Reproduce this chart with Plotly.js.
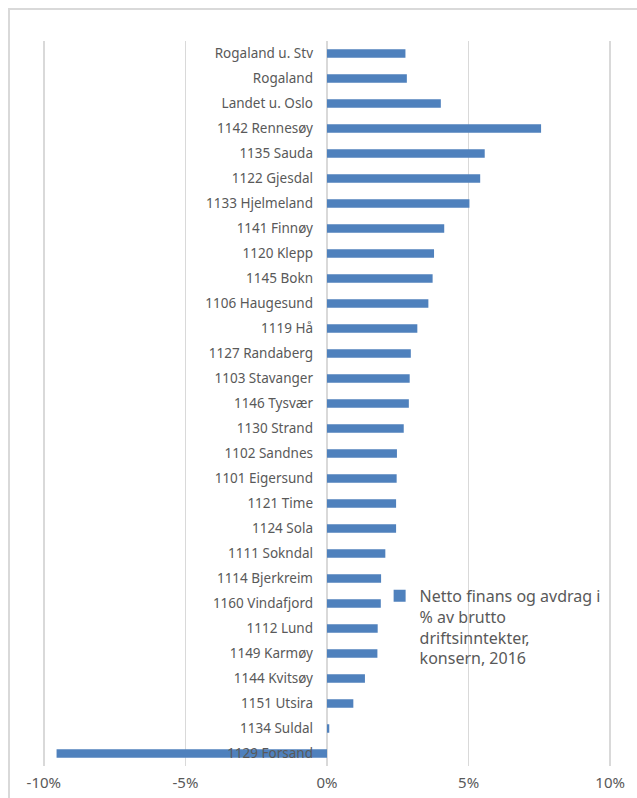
<!DOCTYPE html>
<html>
<head>
<meta charset="utf-8">
<script src="https://cdn.plot.ly/plotly-3.0.1.min.js"></script>
<style>
html,body{margin:0;padding:0;background:#fff;}
#wrap{position:relative;width:637px;height:798px;overflow:hidden;}
#frame{position:absolute;left:8px;top:8px;width:640px;height:800px;border-top:2px solid #d9d9d9;border-left:2px solid #d9d9d9;box-sizing:border-box;pointer-events:none;}
#chart{position:absolute;left:0;top:0;width:637px;height:798px;}
</style>
</head>
<body>
<div id="wrap">
<div id="chart"></div>
<div id="frame"></div>
</div>
<script>
const categories = [
  "Rogaland u. Stv", "Rogaland", "Landet u. Oslo", "1142 Rennesøy", "1135 Sauda",
  "1122 Gjesdal", "1133 Hjelmeland", "1141 Finnøy", "1120 Klepp", "1145 Bokn",
  "1106 Haugesund", "1119 Hå", "1127 Randaberg", "1103 Stavanger", "1146 Tysvær",
  "1130 Strand", "1102 Sandnes", "1101 Eigersund", "1121 Time", "1124 Sola",
  "1111 Sokndal", "1114 Bjerkreim", "1160 Vindafjord", "1112 Lund", "1149 Karmøy",
  "1144 Kvitsøy", "1151 Utsira", "1134 Suldal", "1129 Forsand"
];
const values = [
  2.77, 2.82, 4.02, 7.56, 5.57,
  5.41, 5.03, 4.14, 3.78, 3.73,
  3.58, 3.19, 2.96, 2.92, 2.89,
  2.71, 2.47, 2.46, 2.44, 2.44,
  2.06, 1.91, 1.90, 1.79, 1.78,
  1.34, 0.93, 0.08, -9.55
];
const seriesName = "Netto finans og avdrag i<br>% av brutto<br>driftsinntekter,<br>konsern, 2016";
const xTickVals = [-10, -5, 0, 5, 10];
const xTickText = ["-10%", "-5%", "0%", "5%", "10%"];

const trace = {
  type: "bar",
  orientation: "h",
  y: categories,
  x: values,
  name: seriesName,
  width: 0.34,
  marker: {color: "#4f81bd", line: {width: 0}},
  showlegend: true,
  hoverinfo: "none"
};

const layout = {
  width: 637,
  height: 798,
  margin: {l: 41, r: 24, t: 41, b: 32, pad: 0},
  paper_bgcolor: "#ffffff",
  plot_bgcolor: "#ffffff",
  font: {family: "Noto Sans, Open Sans, sans-serif", color: "#595959"},
  showlegend: true,
  xaxis: {
    range: [-10.1, 10.1],
    tickvals: xTickVals,
    ticktext: xTickText,
    showgrid: true,
    gridcolor: "#d9d9d9",
    gridwidth: 1.5,
    zeroline: true,
    zerolinecolor: "#d9d9d9",
    zerolinewidth: 1.5,
    showline: false,
    ticks: "",
    ticklabelstandoff: 6,
    tickfont: {size: 15, color: "#595959"},
    fixedrange: true
  },
  yaxis: {
    type: "category",
    autorange: "reversed",
    anchor: "free",
    position: 0.5,
    showgrid: false,
    zeroline: false,
    showline: false,
    ticks: "",
    ticklabelstandoff: 14,
    tickfont: {size: 13.5, color: "#595959"},
    fixedrange: true
  },
  legend: {
    x: 0.592,
    y: 0.258,
    xanchor: "left",
    yanchor: "top",
    valign: "top",
    bgcolor: "rgba(0,0,0,0)",
    font: {size: 16, color: "#595959"},
    itemwidth: 30,
    tracegroupgap: 0
  }
};

Plotly.newPlot("chart", [trace], layout, {displayModeBar: false, staticPlot: true});
</script>
</body>
</html>
